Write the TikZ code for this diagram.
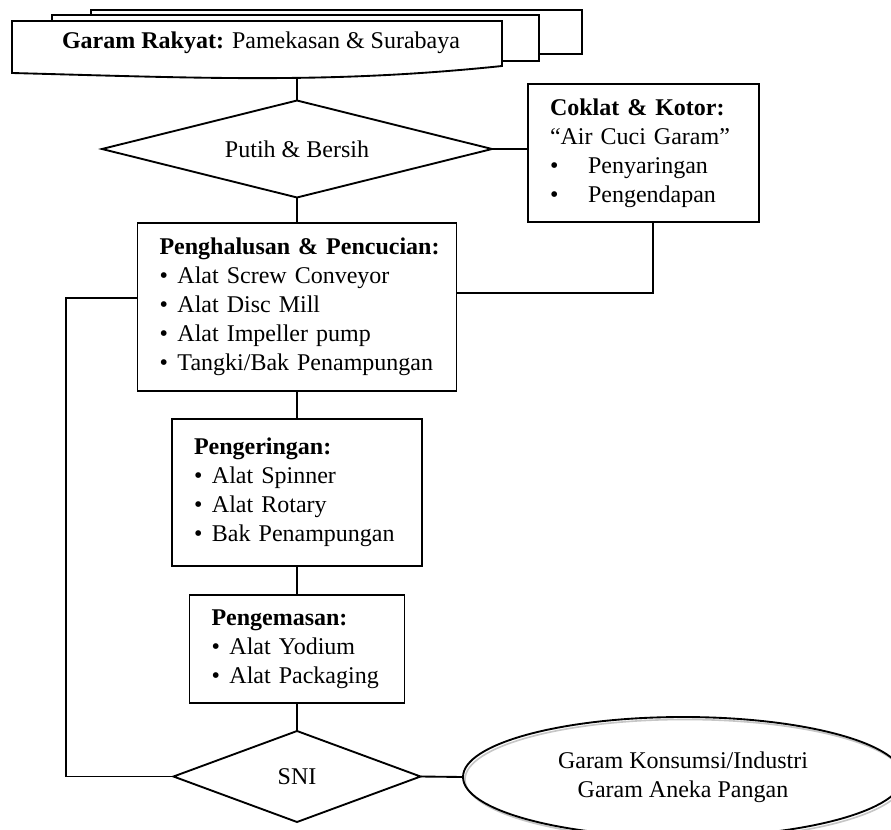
\documentclass[tikz,border=0pt]{standalone}
\usepackage{fontspec}
\setmainfont{Liberation Serif}
\usetikzlibrary{shapes.geometric}
\newcommand\bul{\makebox[13.5pt][l]{\textbullet}}
\newcommand\bulw{\makebox[28.5pt][l]{\textbullet}}
\begin{document}
\begin{tikzpicture}[x=0.75pt,y=-0.75pt,line width=1.4pt,
  every node/.style={font=\fontsize{18}{21.75}\selectfont, outer sep=0pt},
  box/.style={draw, align=left, inner xsep=16.5pt, inner ysep=0pt},
  decide/.style={draw, diamond, shape aspect=4, inner sep=0pt},
  conn/.style={line width=1.4pt}]
\useasboundingbox (0,0) rectangle (891,830);
\clip (0,0) rectangle (891,830);
\fill[white] (0,0) rectangle (891,830);
% multi-document
\draw[fill=white] (91,10) rectangle (582,54);
\draw[fill=white] (52,15) rectangle (539,61);
\draw[fill=white] (12,21) -- (502,21) -- (502,66) .. controls (330,84) and (200,78) .. (12,73) -- cycle;
\node (doc) at (261,43) {\textbf{Garam Rakyat:} Pamekasan \& Surabaya};
\coordinate (docbot) at (297,78);
% decision 1
\node[decide, minimum width=292.5pt, minimum height=72.75pt] (d1) at (297,149) {Putih \& Bersih};
% coklat box
\node[box, text width=140.25pt, minimum height=103.5pt] (cok) at (643.5,153)
  {\mbox{\textbf{Coklat \& Kotor:}}\\\mbox{``Air Cuci Garam''}\\\bulw Penyaringan\\\bulw Pengendapan};
% main box
\node[box, text width=206.25pt, minimum height=126pt] (main) at (297,307)
  {\mbox{\textbf{Penghalusan \& Pencucian:}}\\\mbox{\bul Alat Screw Conveyor}\\\bul Alat Disc Mill\\\mbox{\bul Alat Impeller pump}\\\mbox{\bul Tangki/Bak Penampungan}};
% drying
\node[box, text width=154.5pt, minimum height=110.25pt] (dry) at (297,492.5)
  {\textbf{Pengeringan:}\\\bul Alat Spinner\\\bul Alat Rotary\\\mbox{\bul Bak Penampungan}};
% packing
\node[box, text width=128.25pt, minimum height=81pt] (pack) at (297,649)
  {\textbf{Pengemasan:}\\\bul Alat Yodium\\\mbox{\bul Alat Packaging}};
% SNI
\node[decide, minimum width=185.25pt, minimum height=68.25pt] (sni) at (297,776.5) {SNI};
% output ellipse
\draw[gray!45, line width=1.2pt] (685,779.5) ellipse [x radius=165pt, y radius=45pt];
\node[draw, ellipse, inner sep=0pt, minimum width=330pt, minimum height=90pt, align=center] (out) at (683,777)
  {Garam Konsumsi/Industri\\Garam Aneka Pangan};
% connectors
\coordinate (fb) at (66,298);
\coordinate (cr) at (653,293);
\draw[conn] (docbot) -- (d1.north);
\draw[conn] (d1.east) -- (d1.east -| cok.west);
\draw[conn] (d1.south) -- (main.north);
\draw[conn] (cr |- cok.south) -- (cr) -- (cr -| main.east);
\draw[conn] (main.west |- fb) -- (fb) -- (fb |- sni.west) -- (sni.west);
\draw[conn] (main.south) -- (dry.north);
\draw[conn] (dry.south) -- (pack.north);
\draw[conn] (pack.south) -- (sni.north);
\draw[conn] (sni.east) -- (out.west);
\end{tikzpicture}
\end{document}
